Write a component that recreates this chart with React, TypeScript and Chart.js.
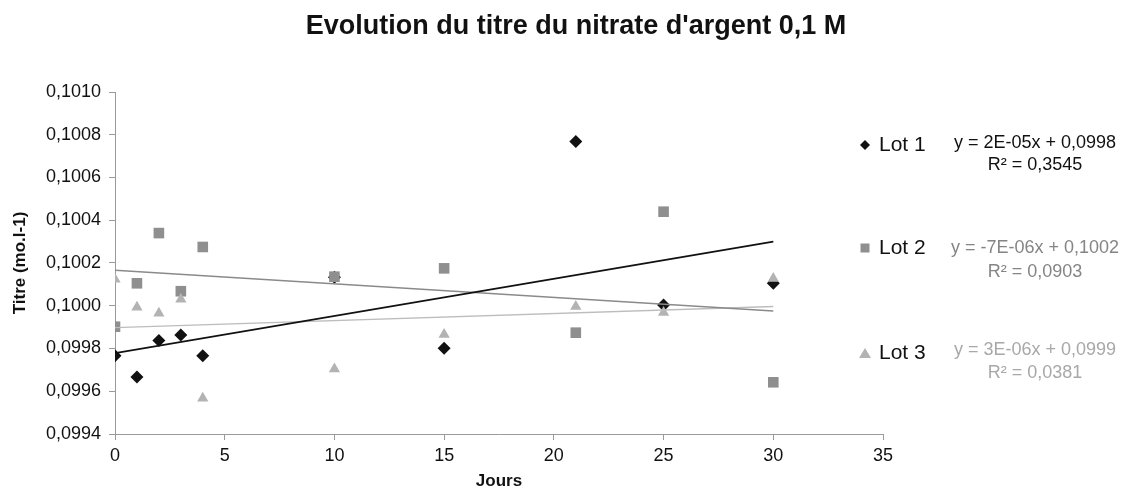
import React, { useEffect, useRef } from "react";
import { Chart, registerables } from "chart.js";

Chart.register(...registerables);

const chartTitle = "Evolution du titre du nitrate d'argent 0,1 M";
const xAxisTitle = "Jours";
const yAxisTitle = "Titre (mo.l-1)";
const seriesNames = ["Lot 1", "Lot 2", "Lot 3"];

const days = [0, 1, 2, 3, 4, 10, 15, 21, 25, 30];
const lot1 = [0.099766, 0.099667, 0.099837, 0.099863, 0.099766, 0.100133, 0.099801, 0.100768, 0.100004, 0.100105];
const lot2 = [0.099902, 0.100105, 0.10034, 0.100068, 0.100275, 0.100136, 0.100175, 0.099874, 0.10044, 0.099642];
const lot3 = [0.100124, 0.099993, 0.099965, 0.10003, 0.099567, 0.099704, 0.099866, 0.099996, 0.099968, 0.100128];

const equationLabels = ["y = 2E-05x + 0,0998", "y = -7E-06x + 0,1002", "y = 3E-06x + 0,0999"];
const r2Labels = ["R² = 0,3545", "R² = 0,0903", "R² = 0,0381"];

const xTicksMin = 0;
const xTicksMax = 35;
const xTickStep = 5;
const yTicksMin = 0.0994;
const yTicksMax = 0.101;
const yTickStep = 0.0002;

const FONT = "'Liberation Sans', Arial, sans-serif";
const markerColors = ["#111111", "#8f8f8f", "#b3b3b3"];
const lineColors = ["#111111", "#8a8a8a", "#bdbdbd"];
const eqColors = ["#111111", "#858585", "#a8a8a8"];

function linReg(xs: number[], ys: number[]) {
  const n = xs.length;
  const mx = xs.reduce((a, b) => a + b, 0) / n;
  const my = ys.reduce((a, b) => a + b, 0) / n;
  let sxy = 0;
  let sxx = 0;
  for (let i = 0; i < n; i++) {
    sxy += (xs[i] - mx) * (ys[i] - my);
    sxx += (xs[i] - mx) * (xs[i] - mx);
  }
  const slope = sxy / sxx;
  const intercept = my - slope * mx;
  return { slope, intercept };
}

function trendPoints(ys: number[]) {
  const { slope, intercept } = linReg(days, ys);
  const x0 = days[0];
  const x1 = days[days.length - 1];
  return [
    { x: x0, y: intercept + slope * x0 },
    { x: x1, y: intercept + slope * x1 },
  ];
}

const legendPlugin = {
  id: "customLegend",
  afterDraw(chart: any) {
    const ctx = chart.ctx as CanvasRenderingContext2D;
    ctx.save();
    // title
    ctx.fillStyle = "#111111";
    ctx.font = `bold 27px ${FONT}`;
    ctx.textAlign = "center";
    ctx.textBaseline = "middle";
    ctx.fillText(chartTitle, 576, 27);

    const rows = [
      { lotY: 145, eqY: 143, r2Y: 165 },
      { lotY: 248, eqY: 248, r2Y: 272 },
      { lotY: 353, eqY: 350, r2Y: 373 },
    ];
    const mx = 865;
    rows.forEach((r, i) => {
      ctx.fillStyle = markerColors[i];
      ctx.beginPath();
      if (i === 0) {
        ctx.moveTo(mx, r.lotY - 5);
        ctx.lineTo(mx + 5, r.lotY);
        ctx.lineTo(mx, r.lotY + 5);
        ctx.lineTo(mx - 5, r.lotY);
        ctx.closePath();
      } else if (i === 1) {
        ctx.rect(mx - 4.5, r.lotY - 4.5, 9, 9);
      } else {
        ctx.moveTo(mx, r.lotY - 5);
        ctx.lineTo(mx + 6, r.lotY + 5);
        ctx.lineTo(mx - 6, r.lotY + 5);
        ctx.closePath();
      }
      ctx.fill();
      ctx.fillStyle = "#111111";
      ctx.font = `21px ${FONT}`;
      ctx.textAlign = "left";
      ctx.textBaseline = "middle";
      ctx.fillText(seriesNames[i], 879, r.lotY);
      ctx.fillStyle = eqColors[i];
      ctx.font = `18px ${FONT}`;
      ctx.textAlign = "center";
      ctx.fillText(equationLabels[i], 1035, r.eqY);
      ctx.fillText(r2Labels[i], 1035, r.r2Y);
    });
    ctx.restore();
  },
};

export default function App() {
  const ref = useRef<HTMLCanvasElement | null>(null);
  useEffect(() => {
    document.body.style.margin = "0";
    const canvas = ref.current;
    if (!canvas) return;
    const series = [lot1, lot2, lot3];
    const styles = ["rectRot", "rect", "triangle"];
    const radii = [6.5, 7.5, 6.5];
    const scatterSets = series.map((vals, i) => ({
      type: "scatter" as const,
      label: seriesNames[i],
      data: days.map((d, k) => ({ x: d, y: vals[k] })),
      pointStyle: styles[i],
      pointRadius: radii[i],
      pointBackgroundColor: markerColors[i],
      pointBorderColor: markerColors[i],
      pointBorderWidth: 0,
      showLine: false,
      order: 3 - i,
    }));
    const trendSets = series.map((vals, i) => ({
      type: "line" as const,
      label: "trend " + seriesNames[i],
      data: trendPoints(vals),
      borderColor: lineColors[i],
      borderWidth: i === 0 ? 1.8 : 1.4,
      pointRadius: 0,
      showLine: true,
      fill: false,
      order: 0,
    }));
    const chart = new Chart(canvas, {
      type: "scatter",
      data: { datasets: [...scatterSets, ...trendSets] as any },
      options: {
        responsive: false,
        animation: false,
        layout: { padding: { left: 0, right: 242, top: 92, bottom: 0 } },
        plugins: {
          legend: { display: false },
          tooltip: { enabled: false },
          title: { display: false },
        },
        scales: {
          x: {
            type: "linear",
            min: xTicksMin,
            max: xTicksMax,
            ticks: {
              stepSize: xTickStep,
              color: "#111111",
              font: { family: FONT, size: 18 },
              padding: 5,
            },
            grid: { drawOnChartArea: false, drawTicks: true, tickLength: 6, color: "#9a9a9a" },
            border: { display: true, color: "#9a9a9a", width: 1 },
            title: {
              display: true,
              text: xAxisTitle,
              color: "#111111",
              font: { family: FONT, size: 17, weight: "bold" },
              padding: { top: 0, bottom: 7 },
            },
            afterFit(scale: any) {
              scale.height = 65;
            },
          },
          y: {
            type: "linear",
            min: yTicksMin,
            max: yTicksMax,
            ticks: {
              stepSize: yTickStep,
              color: "#111111",
              font: { family: FONT, size: 18 },
              padding: 8,
              callback: (v: any) => Number(v).toFixed(4).replace(".", ","),
            },
            grid: { drawOnChartArea: false, drawTicks: true, tickLength: 6, color: "#9a9a9a" },
            border: { display: true, color: "#9a9a9a", width: 1 },
            title: {
              display: true,
              text: yAxisTitle,
              color: "#111111",
              font: { family: FONT, size: 17, weight: "bold" },
              padding: { top: 10, bottom: 0 },
            },
            afterFit(scale: any) {
              scale.width = 115;
            },
          },
        },
      },
      plugins: [legendPlugin],
    });
    return () => chart.destroy();
  }, []);
  return (
    <div style={{ width: 1125, height: 499, background: "#ffffff" }}>
      <canvas ref={ref} width={1125} height={499} />
    </div>
  );
}
